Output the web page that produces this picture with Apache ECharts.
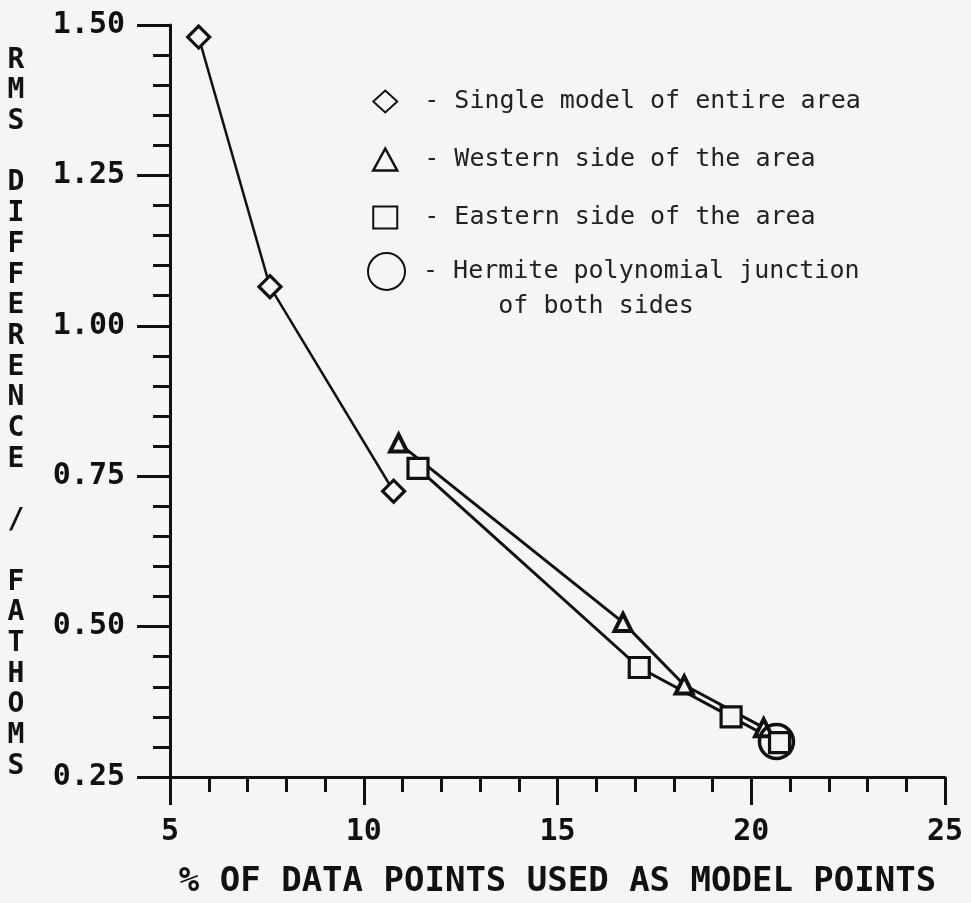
<!DOCTYPE html>
<html>
<head>
<meta charset="utf-8">
<script src="https://cdn.jsdelivr.net/npm/echarts@6/dist/echarts.min.js"></script>
<style>
html,body{margin:0;padding:0;background:#f5f5f3;}
#chart{width:971px;height:903px;}
</style>
</head>
<body>
<div id="chart"></div>
<script>
// ---- data ----
const singleX = [5.74, 7.58, 10.77];
const singleY = [1.48, 1.065, 0.725];
const westX = [10.9, 16.69, 18.27, 20.32];
const westY = [0.805, 0.507, 0.403, 0.332];
const eastX = [11.4, 17.11, 19.48, 20.73];
const eastY = [0.763, 0.432, 0.35, 0.307];
const hermX = [20.65];
const hermY = [0.309];
const xTickLabels = ['5', '10', '15', '20', '25'];
const yTickLabels = ['0.25', '0.50', '0.75', '1.00', '1.25', '1.50'];
const seriesNames = [
  '- Single model of entire area',
  '- Western side of the area',
  '- Eastern side of the area',
  '- Hermite polynomial junction\n     of both sides'
];
const xTitle = '% OF DATA POINTS USED AS MODEL POINTS';
const yTitle = 'RMS DIFFERENCE / FATHOMS';

const ink = '#111';
const bg = '#f5f5f3';
const mono = '"DejaVu Sans Mono", "Liberation Mono", monospace';

function pairs(xs, ys) { return xs.map((x, i) => [x, ys[i]]); }

const markerStyle = { color: bg, borderColor: ink, borderWidth: 3.2 };
const legendText = { fontFamily: mono, fontSize: 25, color: '#222', padding: [0, 0, 0, 22] };

const chart = echarts.init(document.getElementById('chart'), null, { renderer: 'canvas' });
chart.setOption({
  backgroundColor: bg,
  animation: false,
  grid: { left: 170, right: 26, top: 25, bottom: 126, containLabel: false, outerBoundsMode: 'none' },
  graphic: [
    {
      type: 'text',
      x: 16,
      y: 45,
      silent: true,
      style: {
        text: yTitle.split('').join('\n'),
        fontFamily: mono,
        fontWeight: 'bold',
        fontSize: 28,
        lineHeight: 30.7,
        fill: ink,
        align: 'center',
        verticalAlign: 'top'
      }
    }
  ],
  legend: [
    {
      orient: 'vertical',
      left: 367,
      top: 84,
      itemWidth: 24,
      itemHeight: 22,
      itemGap: 33,
      selectedMode: false,
      textStyle: legendText,
      data: [
        { name: seriesNames[0], icon: 'diamond' },
        { name: seriesNames[1], icon: 'triangle', itemStyle: { color: bg, borderColor: ink, borderWidth: 2.5 } },
        { name: seriesNames[2], icon: 'rect' }
      ]
    },
    {
      orient: 'vertical',
      left: 362,
      top: 219,
      itemWidth: 37,
      itemHeight: 37,
      selectedMode: false,
      textStyle: Object.assign({}, legendText, {
        padding: [0, 0, 0, 13],
        rich: {
          g: { fontFamily: mono, fontSize: 25, lineHeight: 35, color: '#222' },
          t: { fontFamily: mono, fontSize: 25, lineHeight: 35, color: '#222' }
        }
      }),
      formatter: (name) => '{g| }\n' + name.split('\n').map(s => '{t|' + s + '}').join('\n'),
      data: [{ name: seriesNames[3], icon: 'circle' }]
    }
  ],
  xAxis: {
    type: 'value',
    min: 5, max: 25, interval: 5,
    name: xTitle,
    nameLocation: 'middle',
    nameGap: 88,
    nameTextStyle: { fontFamily: mono, fontWeight: 'bold', fontSize: 34, color: ink },
    axisLine: { onZero: false, lineStyle: { color: ink, width: 3 } },
    axisTick: { show: true, inside: false, length: 28, lineStyle: { color: ink, width: 3 } },
    minorTick: { show: true, splitNumber: 5, length: 15, lineStyle: { color: ink, width: 3 } },
    splitLine: { show: false },
    axisLabel: {
      margin: 40,
      fontFamily: mono, fontWeight: 'bold', fontSize: 30, color: ink,
      formatter: (v) => xTickLabels[Math.round((v - 5) / 5)]
    }
  },
  yAxis: {
    type: 'value',
    min: 0.25, max: 1.5, interval: 0.25,
    axisLine: { onZero: false, lineStyle: { color: ink, width: 3 } },
    axisTick: { show: true, inside: false, length: 33, lineStyle: { color: ink, width: 3 } },
    minorTick: { show: true, splitNumber: 5, length: 17, lineStyle: { color: ink, width: 3 } },
    splitLine: { show: false },
    axisLabel: {
      margin: 45,
      fontFamily: mono, fontWeight: 'bold', fontSize: 30, color: ink,
      formatter: (v) => yTickLabels[Math.round((v - 0.25) / 0.25)]
    }
  },
  series: [
    {
      name: seriesNames[0], type: 'line', data: pairs(singleX, singleY),
      symbol: 'diamond', symbolSize: 22, showAllSymbol: true,
      lineStyle: { color: ink, width: 2.5 }, itemStyle: markerStyle, z: 3
    },
    {
      name: seriesNames[1], type: 'line', data: pairs(westX, westY),
      symbol: 'triangle', symbolSize: 17, showAllSymbol: true,
      lineStyle: { color: ink, width: 3 }, itemStyle: { color: bg, borderColor: ink, borderWidth: 4 }, z: 3
    },
    {
      name: seriesNames[2], type: 'line', data: pairs(eastX, eastY),
      symbol: 'rect', symbolSize: 20, showAllSymbol: true,
      lineStyle: { color: ink, width: 3 }, itemStyle: markerStyle, z: 3
    },
    {
      name: seriesNames[3], type: 'line', data: pairs(hermX, hermY),
      symbol: 'circle', symbolSize: 34, showAllSymbol: true,
      lineStyle: { color: ink, width: 3 }, itemStyle: { color: 'transparent', borderColor: ink, borderWidth: 3.5 }, z: 4
    }
  ]
});
</script>
</body>
</html>
